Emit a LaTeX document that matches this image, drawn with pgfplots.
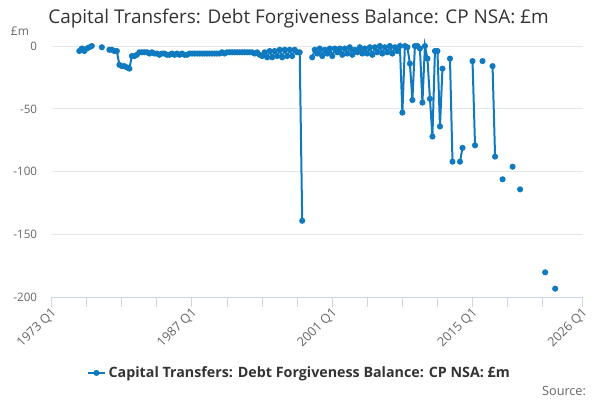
\documentclass[border=0pt]{standalone}
\usepackage{pgfplots}
\pgfplotsset{compat=1.18}
\usepackage{fontspec}
\setmainfont{Open Sans}
\definecolor{series}{RGB}{15,122,192}
\definecolor{gridc}{RGB}{230,230,230}
\definecolor{axisc}{RGB}{204,214,235}
\definecolor{txt}{RGB}{51,51,51}
\definecolor{tickc}{RGB}{102,102,102}
\begin{document}
\begin{tikzpicture}
\begin{axis}[
  at={(38.8pt,-223.1pt)}, anchor=south west,
  scale only axis, width=398.25pt, height=188.6pt,
  xmin=1973, xmax=2026, ymin=-200, ymax=0,
  clip=false,
  axis x line*=bottom, axis y line*=left,
  y axis line style={draw=none},
  x axis line style={draw=axisc, line width=0.75pt},
  xtick={1973,1987,2001,2015,2026},
  xticklabels={1973 Q1,1987 Q1,2001 Q1,2015 Q1,2026 Q1},
  minor xtick={1976.5,1980,1983.5,1990.5,1994,1997.5,2004.5,2008,2011.5,2018.5,2022},
  xtick style={draw=axisc, line width=0.75pt},
  minor tick style={draw=axisc, line width=0.75pt},
  tick align=outside,
  major tick length=7.5pt,
  minor tick length=7.5pt,
  xticklabel style={rotate=45, anchor=east, inner sep=0pt, font=\fontsize{9.5}{11}\selectfont, text=tickc, yshift=-3pt, xshift=0pt},
  ytick={-200,-150,-100,-50,0},
  yticklabels={-200,-150,-100,-50,0},
  ytick style={draw=none},
  yticklabel style={font=\fontsize{8.7}{10}\selectfont, text=tickc},
  ymajorgrids, grid style={gridc, line width=0.75pt},
  unbounded coords=jump,
  legend style={draw=none, fill=none, at={(0.467,-0.300)}, anchor=center, font=\bfseries\fontsize{10.7}{12}\selectfont, text=txt},
  legend image code/.code={\draw[mark repeat=2,mark phase=2] plot coordinates {(0cm,0cm)(0.225cm,0cm)(0.45cm,0cm)};},
]
\addplot[series, line width=1.5pt, mark=*, mark size=1.5pt, mark options={solid}] table {
x y
1975.75 -4
1976.00 -2
1976.25 -4
1976.50 -2
1976.75 -1
1977.00 0
1977.25 nan
1978.00 -1
1978.25 nan
1978.75 -3
1979.00 -3
1979.25 -4
1979.50 -4
1979.75 -15
1980.00 -16
1980.25 -16
1980.50 -17
1980.75 -18
1981.00 -8
1981.25 -8
1981.50 -7
1981.75 -5
1982.00 -5
1982.25 -5
1982.50 -5
1982.75 -6
1983.00 -5
1983.25 -6
1983.50 -6
1983.75 -7
1984.00 -6
1984.25 -6
1984.50 -7
1984.75 -7
1985.00 -6
1985.25 -7
1985.50 -6
1985.75 -7
1986.00 -6
1986.25 -7
1986.50 -7
1986.75 -6
1987.00 -6
1987.25 -6
1987.50 -6
1987.75 -6
1988.00 -6
1988.25 -6
1988.50 -6
1988.75 -6
1989.00 -6
1989.25 -6
1989.50 -6
1989.75 -6
1990.00 -5
1990.25 -6
1990.50 -5
1990.75 -5
1991.00 -5
1991.25 -5
1991.50 -5
1991.75 -5
1992.00 -5
1992.25 -5
1992.50 -5
1992.75 -5
1993.00 -5
1993.25 -6
1993.50 -5
1993.75 -7
1994.00 -8
1994.25 -5
1994.50 -9
1994.75 -4
1995.00 -9
1995.25 -4
1995.50 -8
1995.75 -3
1996.00 -9
1996.25 -3
1996.50 -8
1996.75 -3
1997.00 -8
1997.25 -3
1997.50 -5
1997.75 -5
1998.00 -139
1998.25 nan
1999.00 -9
1999.25 -3
1999.50 -6
1999.75 -2
2000.00 -8
2000.25 -3
2000.50 -6
2000.75 -2
2001.00 -8
2001.25 -2
2001.50 -5
2001.75 -2
2002.00 -7
2002.25 -2
2002.50 -6
2002.75 -1
2003.00 -7
2003.25 -3
2003.50 -5
2003.75 -1
2004.00 -6
2004.25 -2
2004.50 -6
2004.75 -1
2005.00 -7
2005.25 -1
2005.50 -5
2005.75 0
2006.00 -6
2006.25 -1
2006.50 -5
2006.75 0
2007.00 -6
2007.25 -1
2007.50 -4
2007.75 0
2008.00 -53
2008.25 0
2008.50 -1
2008.75 -14
2009.00 -43
2009.25 0
2009.50 0
2009.75 -2
2010.00 -45
2010.25 0
2010.50 -10
2010.75 -42
2011.00 -72
2011.25 -4
2011.50 -4
2011.75 -64
2012.00 -18
2012.25 nan
2012.75 -10
2013.00 -92
2013.25 nan
2013.75 -92
2014.00 -81
2014.25 nan
2015.00 -12
2015.25 -79
2015.50 nan
2016.00 -12
2016.25 nan
2017.00 -16
2017.25 -88
2017.50 nan
2018.00 -106
2018.25 nan
2019.00 -96
2019.25 nan
2019.75 -114
2020.00 nan
2022.25 -180
2022.50 nan
2023.25 -193
};
\addlegendentry{Capital Transfers: Debt Forgiveness Balance: CP NSA: £m}
\end{axis}
\node[anchor=center, text=txt, font=\fontsize{14.2}{16}\selectfont] at (223.9pt,-14.25pt) {Capital Transfers: Debt Forgiveness Balance: CP NSA: £m};
\node[anchor=center, text=tickc, font=\fontsize{9}{10}\selectfont] at (15pt,-23.5pt) {£m};
\node[anchor=east, text=tickc, font=\fontsize{9.5}{11}\selectfont] at (443pt,-293pt) {Source:};
\pgfresetboundingbox
\path[use as bounding box] (0,0) rectangle (450pt,-300pt);
\end{tikzpicture}
\end{document}
